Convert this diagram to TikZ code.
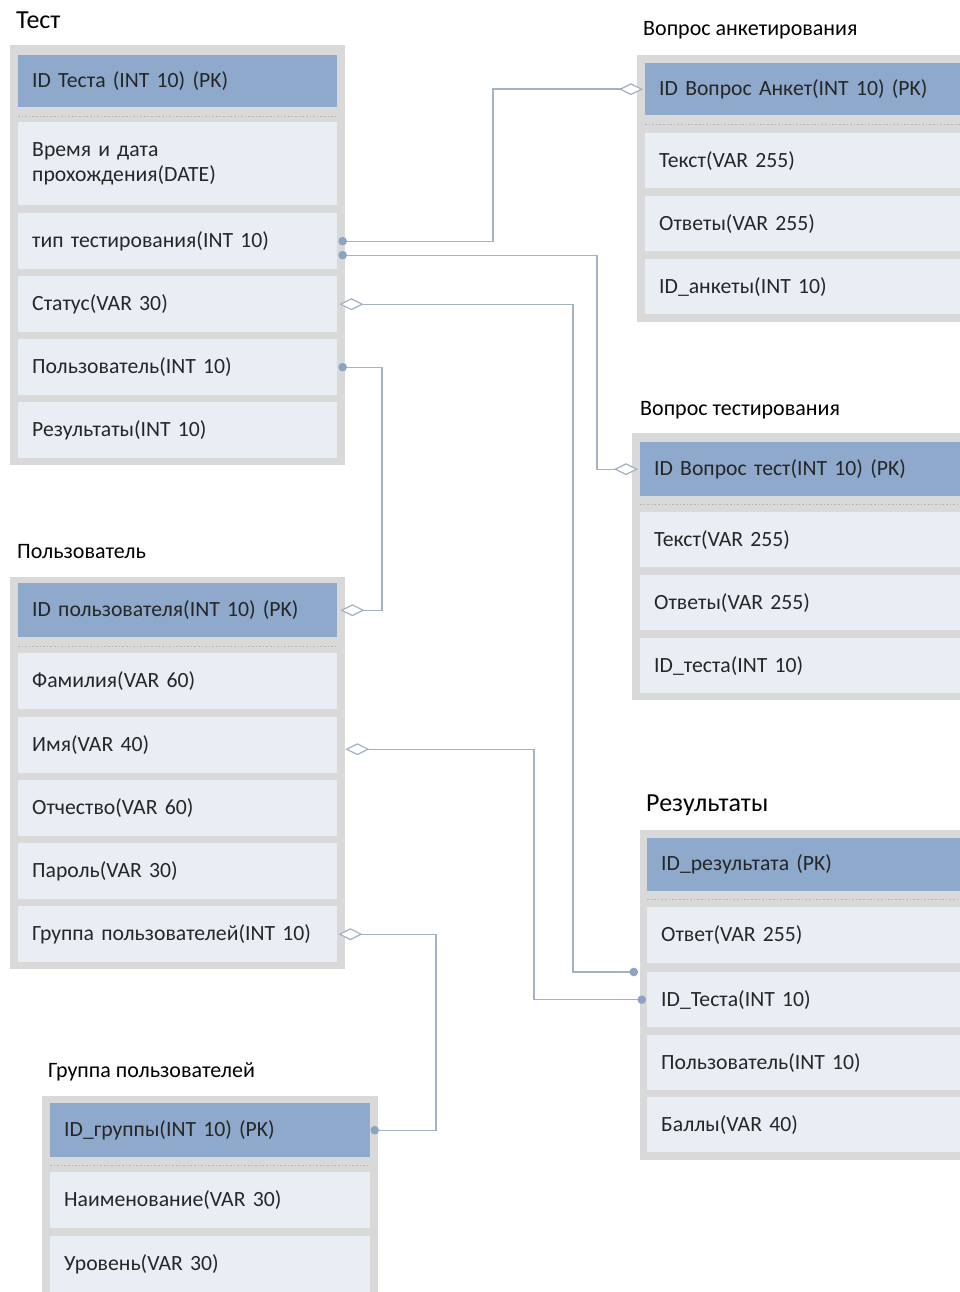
\documentclass[tikz,border=0pt]{standalone}
\usepackage{fontspec}
\setmainfont{Carlito}
\usetikzlibrary{arrows.meta}

\definecolor{framegray}{HTML}{D9D9D9}
\definecolor{rowfill}{HTML}{E9EEF5}
\definecolor{pkfill}{HTML}{8EA9CB}
\definecolor{linkcol}{HTML}{A3B1C2}
\definecolor{dotcol}{HTML}{8CA4C2}
\definecolor{txtcol}{HTML}{262626}
\definecolor{sepcol}{HTML}{B4B4B4}

\newcommand\tblfont{\fontsize{21.7}{25}\selectfont}
\newcommand\tbltitle{\fontsize{22}{25}\selectfont}
\newcommand\tblbigtitle{\fontsize{26}{30}\selectfont}

\begin{document}
\begin{tikzpicture}[x=1pt,y=-1pt,
  field/.style={anchor=north west, fill=rowfill, inner xsep=14pt, inner ysep=0pt,
    align=left, text=txtcol, font=\tblfont, minimum height=56pt},
  pk/.style={field, fill=pkfill, minimum height=#1},
  wl/.style={text width=291pt},
  wg/.style={text width=292pt},
  wr/.style={text width=310pt},
  ttl/.style={anchor=west, inner sep=0pt, font=\tbltitle, text=black},
  bigttl/.style={ttl, font=\tblbigtitle},
  sepline/.style={draw=sepcol, line width=1.6pt, dotted},
  conn/.style={draw=linkcol, line width=1.4pt},
  dotend/.tip={Circle[length=8.5pt, color=dotcol]},
  dmd/.tip={Diamond[length=24pt, width=12pt, fill=white, line width=1.2pt]}
]
\useasboundingbox (0,0) rectangle (960,1292);
\clip (0,0) rectangle (960,1292);
\fill[white] (0,0) rectangle (960,1292);

% ---------- Тест ----------
\node[bigttl] (tT) at (16,20) {Тест};
\fill[framegray] (10,45) rectangle (345,465);
\node[pk=52pt, wl] (t0) at (18,55) {ID Теста (INT 10) (PK)};
\draw[sepline] ([yshift=-9pt]t0.south west) -- ([yshift=-9pt]t0.south east);
\node[field, wl, minimum height=83pt] (t1) at (18,122) {Время и дата\\прохождения(DATE)};
\node[field, wl] (t2) at (18,213) {тип тестирования(INT 10)};
\node[field, wl] (t3) at (18,276) {Статус(VAR 30)};
\node[field, wl] (t4) at (18,339) {Пользователь(INT 10)};
\node[field, wl] (t5) at (18,402) {Результаты(INT 10)};

% ---------- Пользователь ----------
\node[ttl] (uT) at (17,552) {Пользователь};
\fill[framegray] (10,577) rectangle (345,969);
\node[pk=54pt, wl] (u0) at (18,583) {ID пользователя(INT 10) (PK)};
\draw[sepline] ([yshift=-9pt]u0.south west) -- ([yshift=-9pt]u0.south east);
\node[field, wl] (u1) at (18,653) {Фамилия(VAR 60)};
\node[field, wl] (u2) at (18,717) {Имя(VAR 40)};
\node[field, wl] (u3) at (18,780) {Отчество(VAR 60)};
\node[field, wl] (u4) at (18,843) {Пароль(VAR 30)};
\node[field, wl] (u5) at (18,906) {Группа пользователей(INT 10)};

% ---------- Группа пользователей ----------
\node[ttl] (gT) at (48,1072) {Группа пользователей};
\fill[framegray] (42,1096) rectangle (378,1300);
\node[pk=54pt, wg] (g0) at (50,1103) {ID\_группы(INT 10) (PK)};
\draw[sepline] ([yshift=-8pt]g0.south west) -- ([yshift=-8pt]g0.south east);
\node[field, wg] (g1) at (50,1172) {Наименование(VAR 30)};
\node[field, wg] (g2) at (50,1236) {Уровень(VAR 30)};

% ---------- Вопрос анкетирования ----------
\node[ttl] (aT) at (643,30) {Вопрос анкетирования};
\fill[framegray] (637,55) rectangle (985,322);
\node[pk=52pt, wr] (a0) at (645,63) {ID Вопрос Анкет(INT 10) (PK)};
\draw[sepline] ([yshift=-9pt]a0.south west) -- ([yshift=-9pt]a0.south east);
\node[field, wr, minimum height=55pt] (a1) at (645,133) {Текст(VAR 255)};
\node[field, wr, minimum height=55pt] (a2) at (645,196) {Ответы(VAR 255)};
\node[field, wr, minimum height=55pt] (a3) at (645,259) {ID\_анкеты(INT 10)};

% ---------- Вопрос тестирования ----------
\node[ttl] (qT) at (640,410) {Вопрос тестирования};
\fill[framegray] (632,433) rectangle (985,700);
\node[pk=54pt, wr] (q0) at (640,442) {ID Вопрос тест(INT 10) (PK)};
\draw[sepline] ([yshift=-8pt]q0.south west) -- ([yshift=-8pt]q0.south east);
\node[field, wr, minimum height=55pt] (q1) at (640,512) {Текст(VAR 255)};
\node[field, wr, minimum height=55pt] (q2) at (640,575) {Ответы(VAR 255)};
\node[field, wr, minimum height=55pt] (q3) at (640,638) {ID\_теста(INT 10)};

% ---------- Результаты ----------
\node[bigttl] (rT) at (646,805) {Результаты};
\fill[framegray] (640,830) rectangle (985,1160);
\node[pk=53pt, wr] (r0) at (647,838) {ID\_результата (PK)};
\draw[sepline] ([yshift=-8pt]r0.south west) -- ([yshift=-8pt]r0.south east);
\node[field, wr] (r1) at (647,907) {Ответ(VAR 255)};
\node[field, wr, minimum height=55pt] (r2) at (647,972) {ID\_Теста(INT 10)};
\node[field, wr, minimum height=55pt] (r3) at (647,1035) {Пользователь(INT 10)};
\node[field, wr, minimum height=55pt] (r4) at (647,1097) {Баллы(VAR 40)};

% ---------- связи ----------
\coordinate (c1) at (493,0);
\coordinate (c2) at (597,0);
\coordinate (c3) at (573,0);
\coordinate (c4) at (534,0);
\coordinate (c5) at (382,0);
\coordinate (c6) at (436,0);
\coordinate (s2) at ([xshift=1pt,yshift=-14pt]t2.east);
\coordinate (s4) at ([xshift=8pt,yshift=-4pt]u2.east);

\draw[conn, dotend-dmd] ([xshift=1pt]t2.east) -- (t2.east -| c1) |- ([xshift=-2pt]a0.west);
\draw[conn, dotend-dmd] (s2) -- (s2 -| c2) |- ([xshift=-2pt]q0.west);
\draw[conn, dmd-dotend] ([xshift=2pt]t3.east) -- (t3.east -| c3) |- ([xshift=-9pt]r2.north west);
\draw[conn, dmd-dotend] (s4) -- (s4 -| c4) |- ([xshift=-1pt]r2.west);
\draw[conn, dotend-dmd] ([xshift=1pt]t4.east) -- (t4.east -| c5) |- ([xshift=3pt]u0.east);
\draw[conn, dmd-dotend] ([xshift=1pt]u5.east) -- (u5.east -| c6) |- (g0.east);
\end{tikzpicture}
\end{document}
